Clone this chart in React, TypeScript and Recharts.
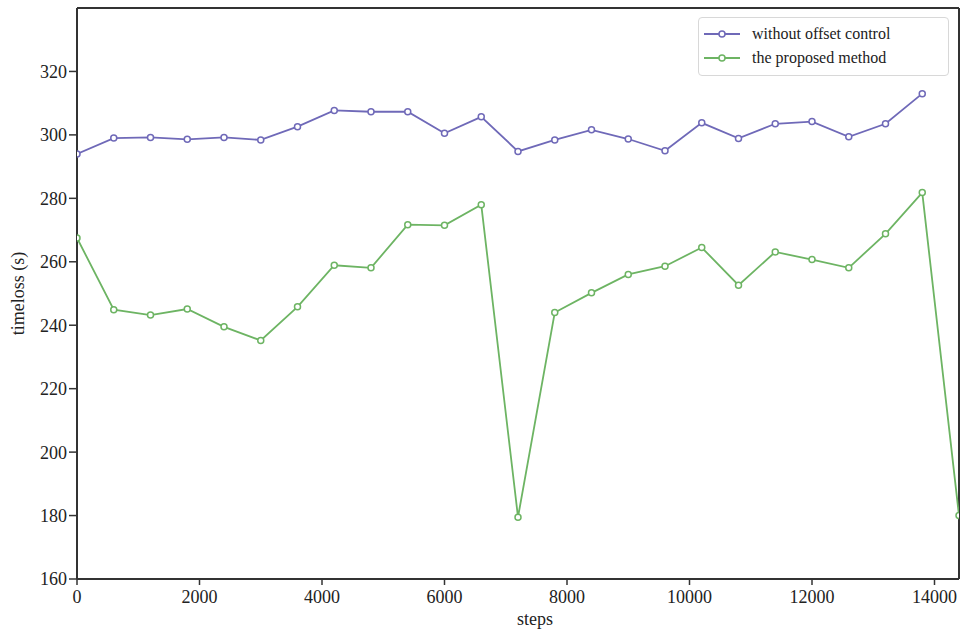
import { LineChart, Line, XAxis, YAxis, Legend, ReferenceLine, Label } from 'recharts';

const steps = [
  0, 600, 1200, 1800, 2400, 3000, 3600, 4200, 4800, 5400, 6000, 6600,
  7200, 7800, 8400, 9000, 9600, 10200, 10800, 11400, 12000, 12600, 13200, 13800, 14400,
];
const withoutOffset = [
  294.0, 299.0, 299.2, 298.6, 299.2, 298.4, 302.6, 307.7, 307.3, 307.3, 300.5, 305.7,
  294.8, 298.4, 301.6, 298.7, 295.0, 303.8, 298.9, 303.5, 304.2, 299.4, 303.5, 313.0, null,
];
const proposed = [
  267.5, 244.9, 243.2, 245.1, 239.5, 235.2, 245.8, 258.9, 258.1, 271.7, 271.5, 278.0,
  179.5, 244.0, 250.2, 256.0, 258.6, 264.5, 252.6, 263.1, 260.7, 258.1, 268.8, 281.8, 180.0,
];
const xTicks = [0, 2000, 4000, 6000, 8000, 10000, 12000, 14000];
const yTicks = [160, 180, 200, 220, 240, 260, 280, 300, 320];

const data = steps.map((s, i) => ({ step: s, without: withoutOffset[i], proposed: proposed[i] }));

const BLUE = '#6f69b8';
const GREEN = '#6db463';
const AXIS = '#333';
const FONT = '"Liberation Serif", "Times New Roman", serif';

const legendItems = [
  { label: 'without offset control', color: BLUE },
  { label: 'the proposed method', color: GREEN },
];

function LegendBox() {
  return (
    <div
      style={{
        width: 249,
        height: 53,
        border: '1px solid #d8d8d8',
        borderRadius: 4,
        background: '#fff',
        boxSizing: 'content-box',
        fontFamily: FONT,
        fontSize: 16,
        color: '#222',
        paddingTop: 4,
      }}
    >
      {legendItems.map((it) => (
        <div key={it.label} style={{ display: 'flex', alignItems: 'center', height: 24, paddingLeft: 5 }}>
          <svg width={36} height={10} style={{ marginRight: 12 }}>
            <line x1={0} y1={5} x2={36} y2={5} stroke={it.color} strokeWidth={1.8} />
            <circle cx={18} cy={5} r={3} fill="#fff" stroke={it.color} strokeWidth={1.5} />
          </svg>
          <span>{it.label}</span>
        </div>
      ))}
    </div>
  );
}

export default function App() {
  return (
    <div style={{ position: 'absolute', left: 0, top: 0, background: '#fff' }}>
      <LineChart width={968} height={632} data={data} margin={{ top: 8, right: 9, bottom: 0, left: 0 }}>
        <XAxis
          dataKey="step"
          type="number"
          domain={[0, 14400]}
          ticks={xTicks}
          allowDataOverflow
          height={53}
          tickSize={6}
          tickMargin={5}
          axisLine={{ stroke: AXIS, strokeWidth: 2 }}
          tickLine={{ stroke: AXIS, strokeWidth: 1.5 }}
          tick={{ fill: '#222', fontSize: 18, fontFamily: FONT }}
        >
          <Label
            content={({ viewBox }: any) => (
              <text
                x={viewBox.x + viewBox.width / 2 + 17}
                y={viewBox.y + 46}
                textAnchor="middle"
                fontFamily={FONT}
                fontSize={18}
                fill="#222"
              >
                steps
              </text>
            )}
          />
        </XAxis>
        <YAxis
          type="number"
          domain={[160, 340]}
          ticks={yTicks}
          allowDataOverflow
          width={77}
          tickSize={8}
          tickMargin={2}
          axisLine={{ stroke: AXIS, strokeWidth: 2 }}
          tickLine={{ stroke: AXIS, strokeWidth: 1.5 }}
          tick={{ fill: '#222', fontSize: 18, fontFamily: FONT }}
        >
          <Label
            content={({ viewBox }: any) => (
              <text
                x={18}
                y={viewBox.y + viewBox.height / 2}
                transform={`rotate(-90 18 ${viewBox.y + viewBox.height / 2})`}
                textAnchor="middle"
                dominantBaseline="central"
                fontFamily={FONT}
                fontSize={18}
                fill="#222"
              >
                timeloss (s)
              </text>
            )}
          />
        </YAxis>
        <ReferenceLine y={340} stroke={AXIS} strokeWidth={2} />
        <ReferenceLine x={14400} stroke={AXIS} strokeWidth={2} />
        <Legend
          layout="horizontal"
          verticalAlign="middle"
          align="center"
          content={() => <LegendBox />}
          wrapperStyle={{ top: 17, left: 698, width: 251, height: 60 }}
        />
        <Line
          type="linear"
          dataKey="without"
          stroke={BLUE}
          strokeWidth={1.8}
          dot={{ r: 3, fill: '#fff', stroke: BLUE, strokeWidth: 1.5 }}
          isAnimationActive={false}
          connectNulls={false}
        />
        <Line
          type="linear"
          dataKey="proposed"
          stroke={GREEN}
          strokeWidth={1.8}
          dot={{ r: 3, fill: '#fff', stroke: GREEN, strokeWidth: 1.5 }}
          isAnimationActive={false}
        />
      </LineChart>
    </div>
  );
}
